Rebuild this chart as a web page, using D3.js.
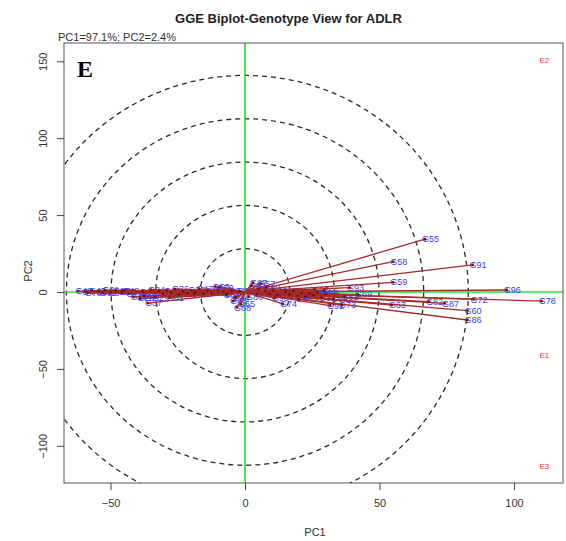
<!DOCTYPE html>
<html><head><meta charset="utf-8">
<script src="https://cdn.jsdelivr.net/npm/d3@7"></script>
<style>body{margin:0;background:#fff} svg{display:block}</style>
</head><body><svg id="c" width="566" height="541"></svg>
<script>
// ---- data ----
const genotypes = ["G40","G4","G70","G45","G12","G75","G31","G8","G17","G23","G79","G49","G2","G27","G28","G80","G21","G37","G24","G29","G6","G33","G81","G19","G14","G36","G10","G42","G5","G38","G83","G15","G47","G3","G26","G11","G53","G84","G50","G9","G85","G18","G34","G44","G68","G65","G43","G1",
"G88","G67","G57","G62","G71","G52","G7","G89","G16","G30","G90","G48","G74","G20","G39","G51","G25","G94","G35","G41","G46","G95","G22","G54","G32","G66","G56","G92","G64","G73","G61","G93","G69","G63","G59","G58","G55","G82","G87","G60","G86","G72","G91","G96","G78"];
const pc1 = [-62.0,-59.5,-58.5,-57.0,-54.5,-53.0,-52.0,-50.0,-48.0,-46.0,-45.5,-44.5,-43.0,-41.5,-39.0,-38.0,-37.5,-36.1,-35.0,-33.5,-32.0,-30.5,-28.0,-29.0,-27.5,-26.0,-24.5,-23.0,-21.5,-20.0,-19.0,-18.5,-17.0,-15.5,-14.0,-12.5,-11.0,-10.0,-9.5,-8.0,-7.0,-6.5,-5.0,-3.5,-3.0,-1.5,-4.5,-2.0,
1.5,3.0,6.0,2.5,4.5,5.0,7.5,8.0,9.0,10.5,11.0,12.0,14.1,15.0,16.5,18.0,19.5,20.0,21.0,22.5,24.0,26.0,25.5,27.0,28.5,29.5,30.0,31.6,33.0,36.0,37.0,39.0,42.0,54.5,55.1,55.1,66.9,68.4,74.3,82.7,82.7,84.9,84.6,97.3,110.3];
const pc2 = [0.6,0.3,-0.5,0.9,0.2,-0.8,1.2,-0.4,0.8,-0.2,0.4,1.0,-1.0,-3.2,-4.0,0.2,-2.5,-7.2,1.5,-3.5,0.4,-1.2,-3.8,0.9,-0.5,1.8,-1.5,0.3,-0.8,1.2,-0.9,-0.3,2.0,-1.1,0.7,-0.4,3.5,1.2,3.0,0.3,-2.0,-1.0,0.8,-3.5,-10.0,-8.0,-6.0,0.5,
-3.0,6.0,5.5,4.0,-1.5,2.0,0.6,3.0,-1.2,1.0,-4.0,-2.0,-7.8,0.3,-1.6,0.8,-2.5,-4.5,-0.8,-3.2,-1.0,1.5,-2.2,-0.4,-3.8,0.8,-1.5,-8.8,-4.5,-8.5,-3.0,2.8,-1.5,-8.5,6.3,19.7,34.3,-6.3,-7.4,-12.1,-18.2,-4.8,17.6,1.3,-5.9];
const envLabels = ["E1","E2","E3"];
const envPC1 = [111.3,111.3,111.3];
const envPC2 = [-41.0,150.4,-113.6];
const xTicks = [-50,0,50,100];
const yTicks = [-100,-50,0,50,100,150];
const circleRadii = [16.6,33.2,49.8,66.4,83.0];
const titleText = "GGE Biplot-Genotype View for ADLR";
const subText = "PC1=97.1%; PC2=2.4%";

// ---- layout ----
const L=64,R=563,T=43,B=483;
const x = d3.scaleLinear().domain([-67.3,118.2]).range([L,R]);
const y = d3.scaleLinear().domain([-124.2,161.9]).range([B,T]);
const font = "Liberation Sans, Arial, Helvetica, sans-serif";
const svg = d3.select("#c");

svg.append("defs").append("clipPath").attr("id","clip")
  .append("rect").attr("x",L).attr("y",T).attr("width",R-L).attr("height",B-T);
const plot = svg.append("g").attr("clip-path","url(#clip)");

// concentric circles
plot.selectAll("ellipse.ring").data(circleRadii).join("ellipse")
  .attr("cx",x(0)).attr("cy",y(0))
  .attr("rx",d=>x(d)-x(0)).attr("ry",d=>(x(d)-x(0))*0.97)
  .attr("fill","none").attr("stroke","#2a2a2a").attr("stroke-width",1.3)
  .attr("stroke-dasharray","5,4");

// green axes lines
plot.append("line").attr("x1",L).attr("x2",R).attr("y1",y(0)).attr("y2",y(0))
  .attr("stroke","#2ee02e").attr("stroke-width",1.7);
plot.append("line").attr("x1",x(0)).attr("x2",x(0)).attr("y1",T).attr("y2",B)
  .attr("stroke","#2ee02e").attr("stroke-width",1.7);

const idx = d3.range(genotypes.length);
// labels
plot.selectAll("text.g").data(idx).join("text")
  .attr("x",i=>x(pc1[i])-3).attr("y",i=>y(pc2[i])).attr("dy","0.35em")
  .attr("font-family",font).attr("font-size",9).attr("fill","#3a3aff")
  .text(i=>genotypes[i]);
// vectors
plot.selectAll("line.v").data(idx).join("line")
  .attr("x1",x(0)).attr("y1",y(0))
  .attr("x2",i=>x(pc1[i])).attr("y2",i=>y(pc2[i]))
  .attr("stroke","#a52a2a").attr("stroke-width",1.3);
plot.selectAll("circle.p").data(idx).join("circle")
  .attr("cx",i=>x(pc1[i])).attr("cy",i=>y(pc2[i])).attr("r",1.4)
  .attr("fill","#7a1010");

// environment labels
plot.selectAll("text.e").data(d3.range(envLabels.length)).join("text")
  .attr("x",i=>x(envPC1[i])).attr("y",i=>y(envPC2[i])).attr("dy","0.35em")
  .attr("text-anchor","middle").attr("font-family",font).attr("font-size",8)
  .attr("fill","#ff2a2a").text(i=>envLabels[i]);

// box
svg.append("rect").attr("x",L).attr("y",T).attr("width",R-L).attr("height",B-T)
  .attr("fill","none").attr("stroke","#555").attr("stroke-width",1);

// axes
const gx = svg.append("g").attr("transform",`translate(0,${B})`)
  .call(d3.axisBottom(x).tickValues(xTicks).tickSize(7).tickSizeOuter(0));
gx.select(".domain").remove();
gx.selectAll(".tick line").attr("stroke","#444");
gx.selectAll(".tick text").attr("y",24).attr("dy",0)
  .attr("font-family",font).attr("font-size",11).attr("fill","#333");

const gy = svg.append("g").attr("transform",`translate(${L},0)`)
  .call(d3.axisLeft(y).tickValues(yTicks).tickSize(7).tickSizeOuter(0));
gy.select(".domain").remove();
gy.selectAll(".tick line").attr("stroke","#444");
gy.selectAll(".tick text").attr("transform","rotate(-90)")
  .attr("x",0).attr("y",-17).attr("dy",0).attr("text-anchor","middle")
  .attr("font-family",font).attr("font-size",11).attr("fill","#333");

// titles
svg.append("text").attr("x",288.5).attr("y",23).attr("text-anchor","middle")
  .attr("font-family",font).attr("font-size",13).attr("font-weight","bold")
  .attr("fill","#222").text(titleText);
svg.append("text").attr("x",58).attr("y",41)
  .attr("font-family",font).attr("font-size",11).attr("fill","#333").text(subText);
svg.append("text").attr("x",315).attr("y",536).attr("text-anchor","middle")
  .attr("font-family",font).attr("font-size",11).attr("fill","#333").text("PC1");
svg.append("text").attr("transform","translate(32,271) rotate(-90)")
  .attr("text-anchor","middle")
  .attr("font-family",font).attr("font-size",11).attr("fill","#333").text("PC2");
svg.append("text").attr("x",77).attr("y",77)
  .attr("font-family","Liberation Serif, Times New Roman, serif").attr("font-size",24)
  .attr("font-weight","bold").attr("fill","#000").text("E");
</script></body></html>
